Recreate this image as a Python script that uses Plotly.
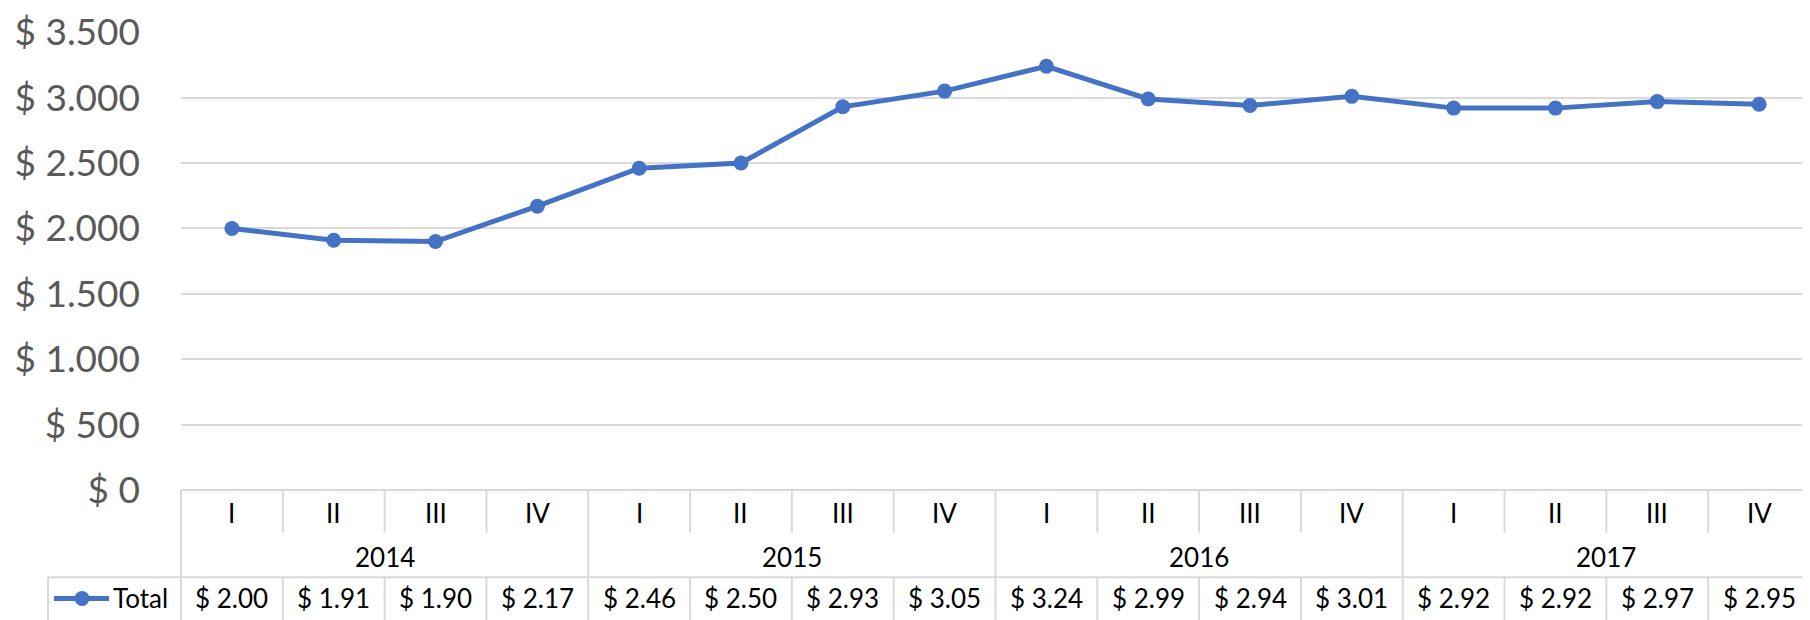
import plotly.graph_objects as go

years = ["2014", "2015", "2016", "2017"]
quarters = ["I", "II", "III", "IV"]
values = [2000, 1910, 1900, 2170, 2460, 2500, 2930, 3050,
          3240, 2990, 2940, 3010, 2920, 2920, 2970, 2950]
table_labels = ["$ 2.00", "$ 1.91", "$ 1.90", "$ 2.17", "$ 2.46", "$ 2.50", "$ 2.93", "$ 3.05",
                "$ 3.24", "$ 2.99", "$ 2.94", "$ 3.01", "$ 2.92", "$ 2.92", "$ 2.97", "$ 2.95"]
y_ticks = [0, 500, 1000, 1500, 2000, 2500, 3000, 3500]
y_ticktext = ["$ 0", "$ 500", "$ 1.000", "$ 1.500", "$ 2.000", "$ 2.500", "$ 3.000", "$ 3.500"]
series_name = "Total"

OFF = 8  # default page body margin
W, H = 1810 - OFF, 620 - OFF
ML, MR = 181 - OFF, 0
MT = 30 - OFF
MB = H - (490 - OFF)
PW = W - ML - MR
PH = H - MT - MB
n = len(values)
xs = list(range(n))

BLUE = "#4472C4"
GRID = "#D9D9D9"
FONT = "Lato"

def py(px):  # reference pixel y -> paper y
    return (H - MB - (px - OFF)) / PH

def pxx(px):  # reference pixel x -> paper x
    return (px - OFF - ML) / PW

def bnd(k):  # category boundary k (0..n) -> paper x
    return k / n

fig = go.Figure()
fig.add_trace(go.Scatter(
    x=xs, y=values, mode="lines+markers", name=series_name,
    line=dict(color=BLUE, width=5),
    marker=dict(color=BLUE, size=15),
    showlegend=False, hoverinfo="skip", cliponaxis=False,
))

shapes = []
line_style = dict(color=GRID, width=2)
y_q = py(533)
y_row = py(577.7)
y_bot = py(630)

shapes.append(dict(type="line", xref="paper", yref="paper", x0=0, x1=1, y0=0, y1=0, line=line_style))
shapes.append(dict(type="line", xref="paper", yref="paper", x0=pxx(48), x1=1, y0=y_row, y1=y_row, line=line_style))
shapes.append(dict(type="line", xref="paper", yref="paper", x0=pxx(48), x1=pxx(48), y0=y_row, y1=y_bot, line=line_style))
for k in range(n + 1):
    xk = bnd(k)
    if k % 4 == 0:
        shapes.append(dict(type="line", xref="paper", yref="paper", x0=xk, x1=xk, y0=0, y1=y_bot, line=line_style))
    else:
        shapes.append(dict(type="line", xref="paper", yref="paper", x0=xk, x1=xk, y0=0, y1=y_q, line=line_style))
        shapes.append(dict(type="line", xref="paper", yref="paper", x0=xk, x1=xk, y0=y_row, y1=y_bot, line=line_style))

# legend sample
ly = py(599)
shapes.append(dict(type="line", xref="paper", yref="paper", x0=pxx(54), x1=pxx(109), y0=ly, y1=ly,
                   line=dict(color=BLUE, width=5)))
shapes.append(dict(type="circle", xref="paper", yref="paper", xsizemode="pixel", ysizemode="pixel",
                   xanchor=pxx(82), yanchor=ly, x0=-7.5, x1=7.5, y0=-7.5, y1=7.5,
                   fillcolor=BLUE, line=dict(color=BLUE, width=0)))

annotations = []
tfont = dict(family=FONT, size=26, color="#000000")
for i in xs:
    annotations.append(dict(x=i, xref="x", y=py(513), yref="paper", text=quarters[i % 4],
                            showarrow=False, font=tfont, xanchor="center", yanchor="middle"))
    annotations.append(dict(x=i, xref="x", y=py(598), yref="paper", text=table_labels[i],
                            showarrow=False, font=tfont, xanchor="center", yanchor="middle"))
for j, yr in enumerate(years):
    annotations.append(dict(x=4 * j + 1.5, xref="x", y=py(557), yref="paper", text=yr,
                            showarrow=False, font=tfont, xanchor="center", yanchor="middle"))
annotations.append(dict(x=pxx(111), xref="paper", y=py(598), yref="paper", text=series_name,
                        showarrow=False, font=tfont, xanchor="left", yanchor="middle"))

fig.update_layout(
    width=W, height=H,
    margin=dict(l=ML, r=MR, t=MT, b=MB, pad=0),
    paper_bgcolor="white", plot_bgcolor="white",
    xaxis=dict(range=[-0.5, n - 0.5], showgrid=False, zeroline=False, showticklabels=False,
               showline=False, ticks="", fixedrange=True),
    yaxis=dict(range=[0, 3502], tickvals=y_ticks, ticktext=y_ticktext, showgrid=True,
               gridcolor=GRID, gridwidth=2, zeroline=False, showline=False, ticks="",
               tickfont=dict(family=FONT, size=37, color="#595959"), ticklabelstandoff=40,
               ticklabeloverflow="allow", fixedrange=True),
    shapes=shapes, annotations=annotations,
    showlegend=False, hovermode=False,
)

fig.write_html("out.html")
